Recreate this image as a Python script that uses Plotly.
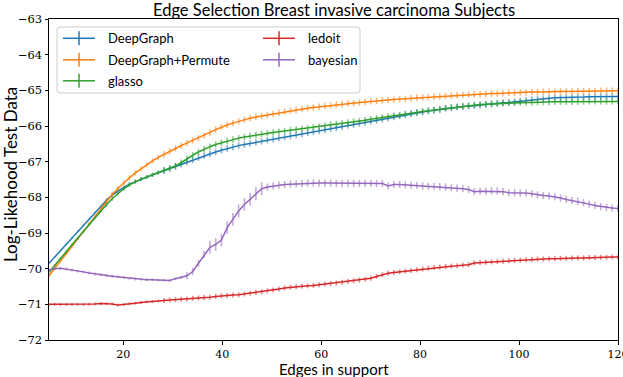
import numpy as np
import plotly.graph_objects as go

# ---------------- data ----------------
n_points = 100
edges = np.linspace(5, 120, n_points)  # sampling grid of the x axis

deepgraph = [
    -69.85, -69.67, -69.49, -69.31, -69.13, -68.95, -68.78, -68.60, -68.42, -68.25,
    -68.08, -67.94, -67.82, -67.72, -67.63, -67.56, -67.49, -67.43, -67.37, -67.31,
    -67.25, -67.19, -67.13, -67.07, -67.01, -66.95, -66.89, -66.83, -66.78, -66.73,
    -66.68, -66.63, -66.59, -66.55, -66.52, -66.49, -66.46, -66.43, -66.40, -66.37,
    -66.34, -66.31, -66.28, -66.25, -66.22, -66.19, -66.16, -66.14, -66.11, -66.08,
    -66.05, -66.02, -65.99, -65.96, -65.93, -65.90, -65.87, -65.84, -65.81, -65.78,
    -65.75, -65.72, -65.69, -65.66, -65.63, -65.61, -65.58, -65.56, -65.54, -65.50,
    -65.49, -65.47, -65.46, -65.44, -65.43, -65.41, -65.40, -65.38, -65.37, -65.35,
    -65.34, -65.32, -65.30, -65.28, -65.26, -65.24, -65.23, -65.22, -65.21, -65.21,
    -65.20, -65.20, -65.19, -65.19, -65.18, -65.18, -65.18, -65.17, -65.17, -65.17,
]

deepgraph_permute = [
    -70.20, -69.99, -69.78, -69.57, -69.36, -69.15, -68.94, -68.73, -68.52, -68.31,
    -68.11, -67.92, -67.75, -67.59, -67.45, -67.32, -67.20, -67.09, -66.98, -66.88,
    -66.79, -66.71, -66.63, -66.55, -66.48, -66.41, -66.34, -66.27, -66.18, -66.10,
    -66.03, -65.97, -65.92, -65.87, -65.82, -65.78, -65.75, -65.72, -65.69, -65.66,
    -65.63, -65.60, -65.57, -65.55, -65.52, -65.50, -65.48, -65.46, -65.44, -65.42,
    -65.40, -65.39, -65.37, -65.36, -65.34, -65.33, -65.31, -65.30, -65.28, -65.27,
    -65.26, -65.25, -65.24, -65.22, -65.21, -65.20, -65.19, -65.18, -65.17, -65.16,
    -65.15, -65.14, -65.13, -65.12, -65.11, -65.11, -65.10, -65.09, -65.09, -65.08,
    -65.07, -65.07, -65.06, -65.06, -65.05, -65.05, -65.04, -65.04, -65.04, -65.03,
    -65.03, -65.03, -65.02, -65.02, -65.02, -65.02, -65.01, -65.01, -65.01, -65.01,
]

glasso = [
    -70.10, -69.90, -69.71, -69.52, -69.33, -69.14, -68.95, -68.76, -68.57, -68.39,
    -68.21, -68.04, -67.89, -67.76, -67.65, -67.56, -67.49, -67.43, -67.37, -67.31,
    -67.25, -67.19, -67.12, -67.03, -66.92, -66.82, -66.73, -66.65, -66.58, -66.52,
    -66.47, -66.42, -66.38, -66.34, -66.31, -66.28, -66.25, -66.22, -66.20, -66.18,
    -66.16, -66.14, -66.12, -66.10, -66.08, -66.06, -66.04, -66.02, -65.99, -65.96,
    -65.94, -65.92, -65.90, -65.88, -65.86, -65.84, -65.81, -65.78, -65.76, -65.73,
    -65.71, -65.69, -65.66, -65.64, -65.61, -65.59, -65.57, -65.55, -65.53, -65.50,
    -65.48, -65.46, -65.44, -65.43, -65.41, -65.40, -65.39, -65.38, -65.37, -65.36,
    -65.35, -65.35, -65.34, -65.34, -65.34, -65.33, -65.33, -65.33, -65.32, -65.32,
    -65.32, -65.32, -65.32, -65.31, -65.31, -65.31, -65.31, -65.31, -65.31, -65.31,
]

ledoit = [
    -71.00, -71.00, -71.01, -71.01, -71.01, -71.01, -71.01, -71.00, -70.99, -70.98,
    -70.98, -70.99, -71.02, -71.01, -70.98, -70.97, -70.95, -70.93, -70.92, -70.91,
    -70.89, -70.88, -70.87, -70.86, -70.85, -70.83, -70.82, -70.81, -70.80, -70.78,
    -70.76, -70.75, -70.74, -70.73, -70.71, -70.69, -70.67, -70.65, -70.62, -70.60,
    -70.57, -70.54, -70.52, -70.51, -70.49, -70.48, -70.47, -70.45, -70.43, -70.42,
    -70.40, -70.38, -70.36, -70.34, -70.32, -70.30, -70.27, -70.22, -70.17, -70.13,
    -70.11, -70.09, -70.07, -70.05, -70.03, -70.01, -69.99, -69.97, -69.95, -69.94,
    -69.93, -69.92, -69.90, -69.89, -69.84, -69.83, -69.82, -69.81, -69.80, -69.79,
    -69.78, -69.77, -69.76, -69.75, -69.74, -69.73, -69.73, -69.72, -69.72, -69.71,
    -69.71, -69.70, -69.70, -69.70, -69.69, -69.69, -69.68, -69.68, -69.67, -69.67,
]

bayesian = [
    -70.04, -70.00, -69.99, -70.01, -70.04, -70.07, -70.09, -70.12, -70.15, -70.17,
    -70.19, -70.21, -70.23, -70.25, -70.27, -70.29, -70.30, -70.31, -70.31, -70.32,
    -70.32, -70.33, -70.28, -70.25, -70.20, -70.08, -69.85, -69.60, -69.40, -69.32,
    -69.20, -68.85, -68.62, -68.38, -68.20, -68.05, -67.90, -67.76, -67.71, -67.68,
    -67.65, -67.64, -67.63, -67.62, -67.61, -67.60, -67.60, -67.60, -67.60, -67.60,
    -67.61, -67.61, -67.61, -67.61, -67.61, -67.61, -67.61, -67.61, -67.61, -67.68,
    -67.64, -67.64, -67.65, -67.66, -67.66, -67.68, -67.69, -67.69, -67.70, -67.71,
    -67.73, -67.74, -67.76, -67.78, -67.84, -67.83, -67.83, -67.82, -67.82, -67.84,
    -67.87, -67.87, -67.88, -67.88, -67.90, -67.93, -67.95, -67.96, -67.98, -68.02,
    -68.06, -68.09, -68.11, -68.15, -68.19, -68.23, -68.26, -68.28, -68.30, -68.31,
]

# half-heights of the error bars
err_deepgraph = [0.02] * 10 + [0.05] * 10 + [0.09] * 80
err_permute = [0.04] * 10 + [0.07] * 10 + [0.09] * 80
err_glasso = [0.03] * 10 + [0.06] * 10 + [0.09] * 80
err_ledoit = [0.04] * 20 + [0.07] * 80
err_bayesian = [0.04] * 24 + [0.10] * 4 + [0.18] * 10 + [0.10] * 62

series_names = ["DeepGraph", "DeepGraph+Permute", "glasso", "ledoit", "bayesian"]
series_values = [deepgraph, deepgraph_permute, glasso, ledoit, bayesian]
series_errors = [err_deepgraph, err_permute, err_glasso, err_ledoit, err_bayesian]
series_colors = ["#1f77b4", "#ff7f0e", "#2ca02c", "#d62728", "#9467bd"]

x_ticks = [20, 40, 60, 80, 100, 120]
y_ticks = [-72, -71, -70, -69, -68, -67, -66, -65, -64, -63]

title_text = "Edge Selection Breast invasive carcinoma Subjects"
x_title = "Edges in support"
y_title = "Log-Likehood Test Data"

# ---------------- layout geometry (pixels) ----------------
W, H = 623, 377
L, R, T, B = 49, 5, 19, 37
PW, PH = W - L - R, H - T - B


def px_x(px):
    return (px - L) / PW


def px_y(py):
    return (H - B - py) / PH


def rgba(hex_color, a):
    h = hex_color.lstrip("#")
    r, g, b = int(h[0:2], 16), int(h[2:4], 16), int(h[4:6], 16)
    return f"rgba({r},{g},{b},{a})"


fig = go.Figure()

for name, vals, errs, col in zip(series_names, series_values, series_errors, series_colors):
    fig.add_trace(go.Scatter(
        x=edges, y=vals, mode="lines", name=name, showlegend=False,
        line=dict(color=col, width=1.5),
        error_y=dict(type="data", array=errs, visible=True, width=0,
                     thickness=1.6, color=rgba(col, 0.55)),
    ))

# ---------------- legend drawn by hand (2 columns) ----------------
shapes = []
annotations = []
bx0, bx1, by0, by1, rad = 57, 360, 27, 93, 3
path = (f"M {px_x(bx0 + rad)},{px_y(by0)} L {px_x(bx1 - rad)},{px_y(by0)} "
        f"Q {px_x(bx1)},{px_y(by0)} {px_x(bx1)},{px_y(by0 + rad)} "
        f"L {px_x(bx1)},{px_y(by1 - rad)} Q {px_x(bx1)},{px_y(by1)} {px_x(bx1 - rad)},{px_y(by1)} "
        f"L {px_x(bx0 + rad)},{px_y(by1)} Q {px_x(bx0)},{px_y(by1)} {px_x(bx0)},{px_y(by1 - rad)} "
        f"L {px_x(bx0)},{px_y(by0 + rad)} Q {px_x(bx0)},{px_y(by0)} {px_x(bx0 + rad)},{px_y(by0)} Z")
shapes.append(dict(type="path", xref="paper", yref="paper", path=path,
                   fillcolor="rgba(255,255,255,0.85)", line=dict(color="#cccccc", width=1),
                   layer="above"))

col_x = [63, 263]
row_y = [38.3, 59.8, 80.8]
slots = [(0, 0), (0, 1), (0, 2), (1, 0), (1, 1)]
for name, col, (c, r) in zip(series_names, series_colors, slots):
    x0 = col_x[c]
    y0 = row_y[r]
    shapes.append(dict(type="line", xref="paper", yref="paper",
                       x0=px_x(x0), x1=px_x(x0 + 32), y0=px_y(y0), y1=px_y(y0),
                       line=dict(color=col, width=1.5), layer="above"))
    shapes.append(dict(type="line", xref="paper", yref="paper",
                       x0=px_x(x0 + 16), x1=px_x(x0 + 16), y0=px_y(y0 - 7), y1=px_y(y0 + 7),
                       line=dict(color=col, width=1.5), layer="above"))
    annotations.append(dict(text=name, xref="paper", yref="paper",
                            x=px_x(x0 + 43), y=px_y(y0), xanchor="left", yanchor="middle",
                            showarrow=False,
                            font=dict(family="Lato", size=13, color="black")))

# titles
annotations.append(dict(text=title_text, xref="paper", yref="paper", x=0.5, y=px_y(10),
                        xanchor="center", yanchor="middle", showarrow=False,
                        font=dict(family="Lato", size=16.5, color="black")))
annotations.append(dict(text=x_title, xref="paper", yref="paper", x=0.5, y=px_y(368.5),
                        xanchor="center", yanchor="middle", showarrow=False,
                        font=dict(family="Lato", size=15, color="black")))
annotations.append(dict(text=y_title, xref="paper", yref="paper", x=px_x(10), y=px_y(175),
                        xanchor="center", yanchor="middle", showarrow=False, textangle=-90,
                        font=dict(family="Lato", size=17, color="black")))

fig.update_layout(
    width=W, height=H,
    margin=dict(l=L, r=R, t=T, b=B),
    paper_bgcolor="white", plot_bgcolor="white",
    showlegend=False,
    shapes=shapes, annotations=annotations,
)

fig.update_xaxes(
    range=[5, 120], tickvals=x_ticks, ticks="outside", ticklen=3.5, tickcolor="black",
    showline=True, linecolor="black", linewidth=1, mirror=True, showgrid=False,
    zeroline=False, ticklabeloverflow="allow", automargin=False,
    tickfont=dict(family="DejaVu Serif", size=11, color="black"),
)
fig.update_yaxes(
    range=[-72, -63], tickvals=y_ticks, ticks="outside", ticklen=3.5, tickcolor="black",
    showline=True, linecolor="black", linewidth=1, mirror=True, showgrid=False,
    zeroline=False, automargin=False,
    tickfont=dict(family="DejaVu Serif", size=11.5, color="black"),
)

fig.write_html(
    "out.html",
    config={"displayModeBar": False},
    post_script="document.body.style.margin='0px';document.body.style.overflow='hidden';",
)
